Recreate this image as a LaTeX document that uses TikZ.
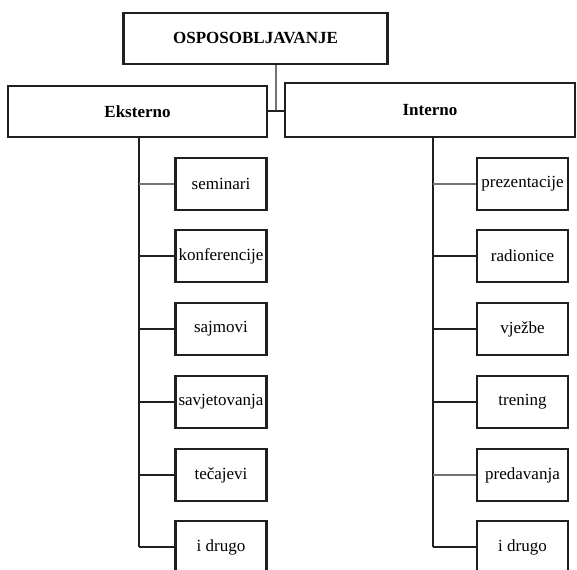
\documentclass[tikz,border=0pt]{standalone}
\usepackage{fontspec}
\setmainfont{Liberation Serif}
\begin{document}
\begin{tikzpicture}[x=1pt,y=-1pt,
  box/.style={draw=black!88,line width=2.5pt,rectangle,inner sep=0pt,align=center,font=\fontsize{17}{19}\selectfont},
  mainbox/.style={box,font=\fontsize{17}{19}\selectfont\bfseries},
  kid/.style={box,minimum width=91pt,minimum height=52pt},
  conn/.style={draw=black!88,line width=2.2pt},
  lconn/.style={draw=black!55,line width=2.2pt}]
\useasboundingbox (0,0) rectangle (577,569);
\node[mainbox,minimum width=264pt,minimum height=51pt] (top) at (255.5,38.5) {OSPOSOBLJAVANJE};
\node[mainbox,minimum width=259pt,minimum height=51pt] (ek) at (137.5,111.5) {Eksterno};
\node[mainbox,minimum width=290pt,minimum height=54pt] (in) at (430,110) {Interno};
\coordinate (j) at (276,111);
\draw[lconn] (top.south -| j) -- (j);
\draw[conn] (ek.east |- j) -- (in.west |- j);
% left
\node[kid] (l1) at (221,184) {seminari};
\node[kid] (l2) at (221,256) {konferencije};
\node[kid] (l3) at (221,329) {sajmovi};
\node[kid] (l4) at (221,402) {savjetovanja};
\node[kid] (l5) at (221,475) {tečajevi};
\node[kid] (l6) at (221,547) {i drugo};
\coordinate (sl) at (139,137);
\draw[conn] (sl) -- (sl |- l6.west);
\draw[lconn] (sl |- l1.west) -- (l1.west);
\foreach \i in {2,...,6} \draw[conn] (sl |- l\i.west) -- (l\i.west);
% right
\node[kid] (r1) at (522.5,184) {prezentacije};
\node[kid] (r2) at (522.5,256) {radionice};
\node[kid] (r3) at (522.5,329) {vježbe};
\node[kid] (r4) at (522.5,402) {trening};
\node[kid] (r5) at (522.5,475) {predavanja};
\node[kid] (r6) at (522.5,547) {i drugo};
\coordinate (sr) at (433,137);
\draw[conn] (sr) -- (sr |- r6.west);
\draw[lconn] (sr |- r1.west) -- (r1.west);
\draw[lconn] (sr |- r5.west) -- (r5.west);
\foreach \i in {2,3,4,6} \draw[conn] (sr |- r\i.west) -- (r\i.west);
\end{tikzpicture}
\end{document}
